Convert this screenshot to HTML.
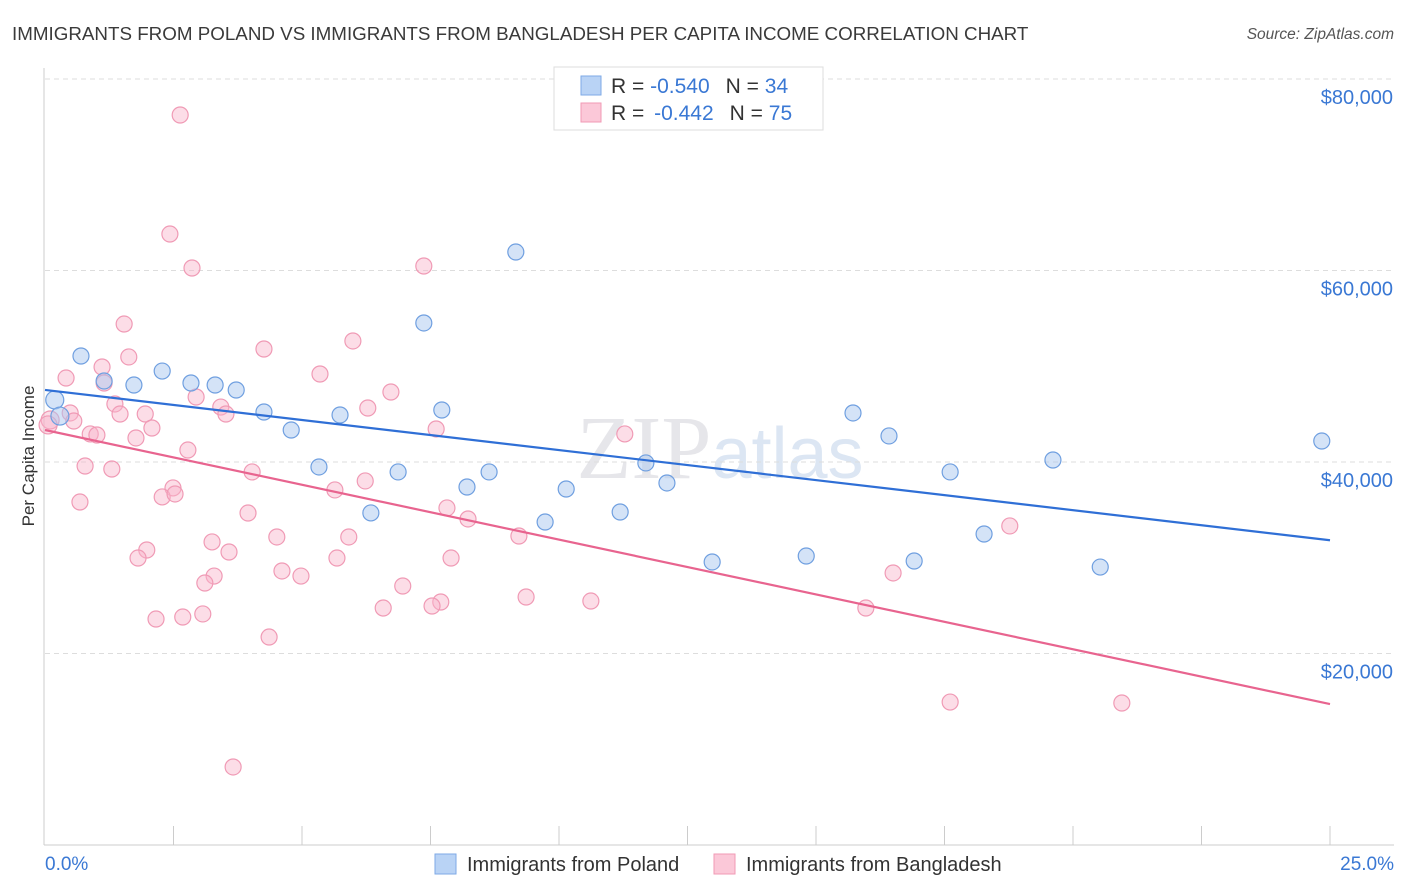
<!DOCTYPE html>
<html><head><meta charset="utf-8"><style>
body{margin:0;background:#fff;font-family:"Liberation Sans",sans-serif;}
#wrap{position:relative;width:1406px;height:892px;overflow:hidden;}
</style></head><body><div id="wrap">
<svg id="svg" width="1406" height="892" xmlns="http://www.w3.org/2000/svg">
<text x="12" y="40" font-size="18.8" fill="#3a3a3a">IMMIGRANTS FROM POLAND VS IMMIGRANTS FROM BANGLADESH PER CAPITA INCOME CORRELATION CHART</text>
<text x="1394" y="39" font-size="15.5" fill="#555" font-style="italic" text-anchor="end">Source: ZipAtlas.com</text>
<text x="34" y="456" font-size="17" fill="#333" text-anchor="middle" transform="rotate(-90 34 456)">Per Capita Income</text>
<text x="720" y="478" font-size="90" fill="#e6e6ea" text-anchor="middle" font-family="Liberation Serif,serif">ZIP<tspan fill="#dce6f3" font-family="Liberation Sans,sans-serif" font-size="72">atlas</tspan></text>
<g id="grid"></g><g id="axes"></g><g id="pts"></g><g id="trend"></g>
<g>
<rect x="554" y="67" width="269" height="63" fill="#fff" stroke="#ddd"/>
<rect x="581" y="76" width="20" height="19" fill="#b9d3f5" stroke="#7ea9e6"/>
<rect x="581" y="103" width="20" height="19" fill="#fbc8d8" stroke="#f09ab5"/>
<text x="611" y="93" font-size="21" fill="#333">R = <tspan fill="#3a78d4">-0.540</tspan><tspan dx="16">N = </tspan><tspan fill="#3a78d4">34</tspan></text>
<text x="611" y="120" font-size="21" fill="#333">R = <tspan fill="#3a78d4" dx="4">-0.442</tspan><tspan dx="16">N = </tspan><tspan fill="#3a78d4">75</tspan></text>
</g>
<g>
<rect x="435" y="854" width="21" height="20" fill="#b9d3f5" stroke="#7ea9e6"/>
<text x="467" y="871" font-size="20" fill="#333">Immigrants from Poland</text>
<rect x="714" y="854" width="21" height="20" fill="#fbc8d8" stroke="#f09ab5"/>
<text x="746" y="871" font-size="20" fill="#333">Immigrants from Bangladesh</text>
</g>
<text x="45" y="870" font-size="19" fill="#3a78d4">0.0%</text>
<text x="1394" y="870" font-size="19" fill="#3a78d4" text-anchor="end">25.0%</text>
</svg></div>
<script>
const yTicks=[20000,40000,60000,80000];
const yTickLabels=["$20,000","$40,000","$60,000","$80,000"];
const polandX=[0.70,1.15,1.73,2.28,2.84,3.31,3.72,4.26,4.79,5.33,5.74,6.34,6.87,7.37,7.72,8.21,8.64,9.16,9.73,10.14,11.19,11.69,12.10,12.98,14.81,15.72,16.42,16.91,17.61,18.27,19.61,20.53,24.84,0.19,0.29];
const polandY=[51070,48460,48040,49500,48250,48040,47520,45220,43340,39480,44910,34680,38960,54520,45430,37390,38960,61930,33730,37180,34780,39900,37810,29560,30180,45120,42720,29660,38960,32480,40210,29030,42190,46480,44800];
const bangX=[2.63,2.43,2.86,7.37,1.54,4.26,5.99,1.63,1.11,0.41,5.35,1.15,6.73,2.94,1.36,6.28,3.42,1.95,3.52,1.46,0.49,0.56,2.08,7.61,11.28,0.88,1.01,1.77,2.78,0.78,1.30,4.03,6.23,5.64,2.49,2.28,2.53,0.68,7.82,8.23,3.95,4.51,5.91,9.22,3.25,1.98,3.58,1.81,5.68,7.90,4.61,4.98,3.29,3.11,6.96,16.50,18.77,9.36,10.62,7.70,7.53,6.58,15.97,2.16,2.68,3.07,4.36,17.61,20.95,3.66,0.10,0.06];
const bangY=[76240,63810,60260,60470,54410,51800,52640,50970,49920,48770,49190,48250,47310,46790,46060,45640,45740,45010,45010,45010,45120,44280,43550,43450,42930,42930,42820,42510,41250,39580,39270,38960,38020,37080,37290,36350,36660,35820,35200,34050,34670,32170,32170,32270,31650,30810,30600,29970,29970,29970,28620,28090,28090,27360,27050,28410,33320,25900,25480,25380,24960,24750,24750,23600,23810,24130,21720,14930,14830,8150,44390,43870];
const NS="http://www.w3.org/2000/svg";
const xs=p=>45+p*51.4, ys=v=>845-v/20000*191.5;
function mk(t,a,parent){const e=document.createElementNS(NS,t);for(const k in a)e.setAttribute(k,a[k]);document.getElementById(parent).appendChild(e);return e;}
yTicks.forEach((v,i)=>{
 const g=mk('line',{x1:45,x2:1394,y1:ys(v),y2:ys(v),stroke:'#ddd','stroke-dasharray':'5,4'},'grid');
 
 
 const t=mk('text',{x:1393,y:ys(v)+25,'font-size':20,fill:'#3a78d4','text-anchor':'end'},'axes');
 t.textContent=yTickLabels[i];
 
 
});
mk('line',{x1:45,x2:1394,y1:79,y2:79,stroke:'#ddd','stroke-dasharray':'5,4'},'grid');
mk('line',{x1:44,x2:44,y1:68,y2:845,stroke:'#ccc'},'axes');
mk('line',{x1:44,x2:1394,y1:845,y2:845,stroke:'#ccc'},'axes');
for(let i=1;i<=10;i++){const l=mk('line',{x1:xs(i*2.5),x2:xs(i*2.5),y1:826,y2:845,stroke:'#ccc'},'axes');
 
 }
function pts(X,Y,fill,stroke,name){X.forEach((x,i)=>{const c=mk('circle',{cx:xs(x),cy:ys(Y[i]),r:(x<0.3&&i>=X.length-2)?9:8,fill:fill,stroke:stroke,'stroke-width':1.2},'pts');
 
 });}
pts(bangX,bangY,'rgba(248,180,202,0.45)','#f09ab5','bangladesh-point');
pts(polandX,polandY,'rgba(170,200,240,0.5)','#6f9fe0','poland-point');
function fit(X,Y){const n=X.length;let mx=0,my=0;X.forEach((x,i)=>{mx+=x;my+=Y[i]});mx/=n;my/=n;let sxy=0,sxx=0;X.forEach((x,i)=>{sxy+=(x-mx)*(Y[i]-my);sxx+=(x-mx)*(x-mx)});const b=sxy/sxx;return [my-b*mx,b];}
[[polandX,polandY,'#2f6fd6','poland-trend-line'],[bangX,bangY,'#e8648f','bangladesh-trend-line']].forEach(s=>{
 const [a,b]=fit(s[0],s[1]);
 const l=mk('line',{x1:xs(0),y1:ys(a),x2:xs(25),y2:ys(a+b*25),stroke:s[2],'stroke-width':2.2},'trend');
 
 
});
</script></body></html>
